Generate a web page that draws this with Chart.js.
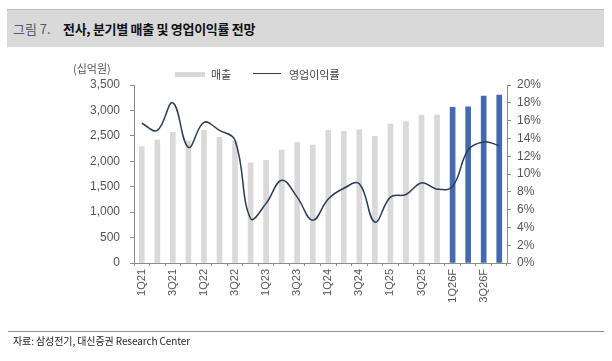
<!DOCTYPE html>
<html>
<head>
<meta charset="utf-8">
<script src="https://cdn.jsdelivr.net/npm/chart.js@4.4.1/dist/chart.umd.min.js"></script>
<style>
body { margin: 0; background: #fff; }
#wrap { position: relative; width: 612px; height: 361px; overflow: hidden; font-family: "Noto Sans CJK KR", "Liberation Sans", sans-serif; }
#titlebar { position: absolute; left: 7px; top: 9px; width: 597px; height: 37px; background: #d9d9d9; border-top: 1px solid #b3bfcc; }
#titlebar span { position: absolute; top: 10px; font-size: 13px; line-height: 18px; }
#fig { left: 6px; color: #595959; }
#ttl { left: 56px; color: #111; font-weight: bold; letter-spacing: -0.3px; }
#unit { position: absolute; left: 73px; top: 60px; font-size: 11px; color: #555; }
.lg { position: absolute; top: 66px; font-size: 11px; color: #444; line-height: 16px; }
#lgbar { position: absolute; left: 175px; top: 72px; width: 30px; height: 5px; background: #d9d9d9; }
#lgline { position: absolute; left: 253px; top: 73px; width: 28px; height: 0; border-top: 1.5px solid #2d3b58; }
#foot { position: absolute; left: 8px; top: 331px; width: 596px; border-top: 1px solid #8c8c8c; }
#src { position: absolute; left: 13px; top: 333px; font-size: 10px; color: #222; letter-spacing: -0.1px; }
canvas { position: absolute; left: 0; top: 0; }
</style>
</head>
<body>
<div id="wrap">
  <div id="titlebar"><span id="fig">그림 7.</span><span id="ttl">전사, 분기별 매출 및 영업이익률 전망</span></div>
  <canvas id="chart" width="612" height="361"></canvas>
  <div id="unit">(십억원)</div>
  <div id="lgbar"></div><div class="lg" style="left:211px">매출</div>
  <div id="lgline"></div><div class="lg" style="left:289px">영업이익률</div>
  <div id="foot"></div>
  <div id="src">자료: 삼성전기, 대신증권 Research Center</div>
</div>
<script>
var quarters = ['1Q21','2Q21','3Q21','4Q21','1Q22','2Q22','3Q22','4Q22',
                '1Q23','2Q23','3Q23','4Q23','1Q24','2Q24','3Q24','4Q24',
                '1Q25','2Q25','3Q25','4Q25','1Q26F','2Q26F','3Q26F','4Q26F'];
// 매출 (십억원)
var sales = [2290, 2420, 2570, 2400, 2610, 2470, 2400, 1970,
             2020, 2220, 2370, 2320, 2610, 2590, 2620, 2490,
             2730, 2780, 2910, 2910, 3060, 3070, 3280, 3300];
// 영업이익률 (%)
var margin = [15.7, 14.9, 18.0, 13.0, 15.8, 14.9, 13.8, 5.0,
              6.7, 9.3, 7.4, 4.8, 7.2, 8.4, 8.9, 4.6,
              7.4, 7.7, 9.0, 8.3, 8.6, 12.7, 13.6, 13.2];
var salesTicks = [0, 500, 1000, 1500, 2000, 2500, 3000, 3500];
var marginTicks = [0, 2, 4, 6, 8, 10, 12, 14, 16, 18, 20];

var numFont = { family: 'Liberation Sans', size: 12 };
var axisColor = '#8c8c8c';

// forecast quarters in blue
var barColors = quarters.map(function(q) {
    return q.slice(-1) === 'F' ? '#4469b0' : '#d9d9d9';
});

var ctx = document.getElementById('chart').getContext('2d');
var myChart = new Chart(ctx, {
    data: {
        labels: quarters,
        datasets: [{
            type: 'line',
            label: '영업이익률',
            data: margin,
            yAxisID: 'y1',
            borderColor: '#2d3b58',
            borderWidth: 1.5,
            tension: 0.4,
            pointRadius: 0,
            fill: false
        }, {
            type: 'bar',
            label: '매출',
            data: sales,
            yAxisID: 'y',
            backgroundColor: barColors,
            barThickness: 5
        }]
    },
    options: {
        responsive: false,
        devicePixelRatio: 1,
        animation: false,
        layout: { padding: { top: 85, bottom: 48, left: 0, right: 0 } },
        plugins: { legend: { display: false }, tooltip: { enabled: false } },
        scales: {
            x: {
                offset: true,
                grid: { drawOnChartArea: false, offset: true, tickLength: 3, color: axisColor },
                border: { color: axisColor },
                ticks: {
                    autoSkip: false, maxRotation: 90, minRotation: 90, padding: 3,
                    color: '#555', font: { family: 'Liberation Sans', size: 11 },
                    callback: function(v, i) { return i % 2 === 0 ? this.getLabelForValue(v) : ''; }
                },
                afterFit: function(s) { s.height = 50; }
            },
            y: {
                position: 'left', min: 0, max: 3500,
                afterBuildTicks: function(s) { s.ticks = salesTicks.map(function(v) { return { value: v }; }); },
                grid: { drawOnChartArea: false, tickLength: 4, color: axisColor },
                border: { color: axisColor },
                ticks: { padding: 10, color: '#555', font: numFont },
                afterFit: function(s) { s.width = 134; }
            },
            y1: {
                position: 'right', min: 0, max: 20,
                afterBuildTicks: function(s) { s.ticks = marginTicks.map(function(v) { return { value: v }; }); },
                grid: { drawOnChartArea: false, tickLength: 4, color: axisColor },
                border: { color: axisColor },
                ticks: { padding: 6, color: '#555', font: numFont, callback: function(v) { return v + '%'; } },
                afterFit: function(s) { s.width = 105; }
            }
        }
    }
});
</script>
</body>
</html>
